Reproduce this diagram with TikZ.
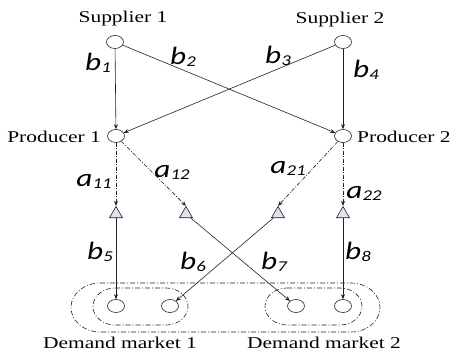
\documentclass[tikz,border=0pt]{standalone}
\usepackage{fontspec}
\usetikzlibrary{shapes.geometric,arrows.meta}
\newfontfamily\serifl{Liberation Serif}[FakeStretch=1.3]
\newfontfamily\labfam{Carlito}[FakeStretch=1.25]
\newcommand\lbl[2]{{\labfam\itshape\fontsize{25}{25}\selectfont #1\raisebox{-2pt}{\fontsize{15}{15}\selectfont #2}}}
\definecolor{trifill}{HTML}{DCE4EF}
\definecolor{ln}{HTML}{222222}
\begin{document}
\begin{tikzpicture}[x=1pt,y=1pt,
  nd/.style={ellipse, draw=ln, line width=0.6pt, minimum width=17pt, minimum height=13pt, inner sep=0pt},
  tri/.style={regular polygon, regular polygon sides=3, draw=ln, line width=0.6pt, fill=trifill, minimum size=15pt, inner sep=0pt},
  arr/.style={-{Stealth[length=5pt,width=4pt]}, draw=ln, line width=0.6pt},
  dd/.style={arr, dash pattern=on 4pt off 1.5pt on 1pt off 1.5pt},
  grp/.style={draw=ln, line width=0.6pt, dash pattern=on 5pt off 2pt on 1pt off 2pt},
  nmtext/.style={font=\serifl\fontsize{16.5}{16.5}\selectfont, inner sep=0pt},
  lab/.style={inner sep=0pt}]
\useasboundingbox (0,0) rectangle (451,355);
% nodes
\node[nd] (s1) at (115,313) {};
\node[nd] (s2) at (343,313) {};
\node[nd] (p1) at (116,219) {};
\node[nd] (p2) at (343,219) {};
\node[tri] (t1) at (116,141) {};
\node[tri] (t2) at (186,141) {};
\node[tri] (t3) at (278,141) {};
\node[tri] (t4) at (343,141) {};
\node[nd] (d1) at (116,49) {};
\node[nd] (d2) at (170,49) {};
\node[nd] (d3) at (296,49) {};
\node[nd] (d4) at (343,49) {};
% groups
\draw[grp] (100,72) -- (351,72) arc[start angle=90,end angle=-90,x radius=29pt,y radius=24.5pt] -- (100,23) arc[start angle=270,end angle=90,x radius=29pt,y radius=24.5pt] -- cycle;
\draw[grp] (115,67) -- (166,67) arc[start angle=90,end angle=-90,x radius=22pt,y radius=18.5pt] -- (115,30) arc[start angle=270,end angle=90,x radius=22pt,y radius=18.5pt] -- cycle;
\draw[grp] (287,67) -- (340,67) arc[start angle=90,end angle=-90,x radius=22pt,y radius=18.5pt] -- (287,30) arc[start angle=270,end angle=90,x radius=22pt,y radius=18.5pt] -- cycle;
% connectors
\draw[arr] (s1) -- (p1);
\draw[arr] (s1) -- (p2);
\draw[arr] (s2) -- (p1);
\draw[arr] (s2) -- (p2);
\draw[dd] (p1) -- (t1.corner 1);
\draw[dd] (p1) -- (t2.corner 1);
\draw[dd] (p2) -- (t3.corner 1);
\draw[dd] (p2) -- (t4.corner 1);
\draw[arr] (t1) -- (d1);
\draw[arr] (t2) -- (d3);
\draw[arr] (t3) -- (d2);
\draw[arr] (t4) -- (d4);
% names
\node[nmtext] (ns1) at (123,336) {Supplier 1};
\node[nmtext] (ns2) at (340,335) {Supplier 2};
\node[nmtext,anchor=east] (np1) at (101,218) {Producer 1};
\node[nmtext,anchor=west] (np2) at (357,218) {Producer 2};
\node[nmtext] (nd1) at (120,12) {Demand market 1};
\node[nmtext] (nd2) at (324,12) {Demand market 2};
% labels
\node[lab] (lb1) at (98,292) {\lbl{b}{1}};
\node[lab] (lb2) at (183,298) {\lbl{b}{2}};
\node[lab] (lb3) at (278,299) {\lbl{b}{3}};
\node[lab] (lb4) at (366,285) {\lbl{b}{4}};
\node[lab] (la11) at (94,174) {\lbl{a}{11}};
\node[lab] (la12) at (172,183) {\lbl{a}{12}};
\node[lab] (la21) at (288,187) {\lbl{a}{21}};
\node[lab] (la22) at (364,162) {\lbl{a}{22}};
\node[lab] (lb5) at (100,103) {\lbl{b}{5}};
\node[lab] (lb6) at (193,93) {\lbl{b}{6}};
\node[lab] (lb7) at (274,93) {\lbl{b}{7}};
\node[lab] (lb8) at (358,103) {\lbl{b}{8}};
\end{tikzpicture}
\end{document}
